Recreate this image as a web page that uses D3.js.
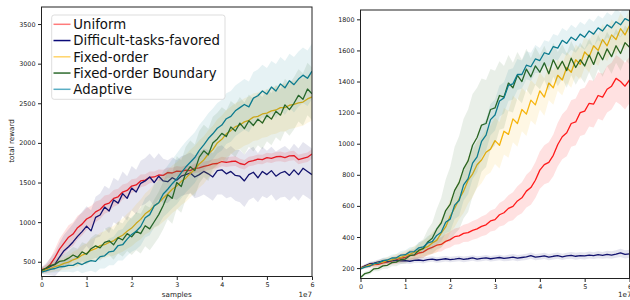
<!DOCTYPE html>
<html>
<head>
<meta charset="utf-8">
<script src="https://cdn.jsdelivr.net/npm/d3@7"></script>
<style>
  body { margin: 0; background: #fff; }
  svg { display: block; font-family: "DejaVu Sans", sans-serif; }
</style>
</head>
<body>
<div id="chart"></div>
<script>
// logged sample counts, one point every 1e6 samples
var samples = d3.range(0, 61).map(function(i) { return i * 1e6; });

var seriesNames = ["Uniform", "Difficult-tasks-favored", "Fixed-order", "Fixed-order Boundary", "Adaptive"];
var xTicks = [0, 1e7, 2e7, 3e7, 4e7, 5e7, 6e7];
var leftTicks = [500, 1000, 1500, 2000, 2500, 3000, 3500];
var rightTicks = [200, 400, 600, 800, 1000, 1200, 1400, 1600, 1800];

// ---- left panel: mean reward ----
var uniformL = [400, 415, 470, 555, 660, 735, 810, 850, 930, 975,
  1040, 1070, 1130, 1160, 1220, 1240, 1300, 1320, 1380, 1400,
  1455, 1470, 1520, 1530, 1565, 1570, 1595, 1590, 1625, 1620,
  1645, 1640, 1655, 1650, 1680, 1685, 1705, 1715, 1735, 1740,
  1765, 1755, 1765, 1770, 1740, 1725, 1765, 1775, 1795, 1790,
  1815, 1805, 1825, 1830, 1815, 1835, 1840, 1790, 1805, 1820, 1860];
var difficultL = [390, 410, 440, 470, 560, 640, 690, 750, 820, 880,
  950, 890, 1060, 1090, 1190, 1140, 1280, 1240, 1360, 1300,
  1430, 1380, 1490, 1520, 1570, 1500, 1580, 1520, 1510, 1560,
  1530, 1580, 1600, 1620, 1570, 1600, 1640, 1610, 1570, 1650,
  1660, 1610, 1640, 1590, 1580, 1520, 1600, 1630, 1560, 1640,
  1600, 1650, 1580, 1620, 1640, 1590, 1660, 1600, 1680, 1640, 1600];
var fixedL = [380, 400, 415, 440, 455, 480, 495, 525, 545, 585,
  605, 645, 665, 705, 715, 745, 765, 805, 835, 885,
  925, 985, 1035, 1105, 1145, 1205, 1245, 1305, 1355, 1415,
  1455, 1515, 1555, 1615, 1665, 1735, 1785, 1860, 1915, 2000,
  2045, 2115, 2155, 2205, 2225, 2265, 2285, 2325, 2335, 2365,
  2375, 2405, 2415, 2445, 2445, 2475, 2485, 2505, 2515, 2555, 2580];
var boundaryL = [390, 420, 455, 465, 505, 515, 545, 585, 555, 625,
  595, 665, 700, 675, 745, 765, 715, 805, 775, 855,
  815, 885, 855, 955, 915, 1005, 1095, 1210, 1345, 1300,
  1500, 1450, 1620, 1700, 1650, 1820, 1900, 1850, 2000, 2050,
  2120, 2080, 2200, 2150, 2250, 2180, 2280, 2220, 2300, 2250,
  2350, 2300, 2400, 2350, 2480, 2420, 2500, 2600, 2550, 2680, 2620];
var adaptiveL = [370, 385, 405, 415, 435, 440, 455, 455, 485, 465,
  495, 515, 505, 565, 575, 625, 635, 705, 715, 785,
  845, 885, 945, 1055, 1095, 1205, 1245, 1355, 1415, 1485,
  1545, 1625, 1695, 1755, 1815, 1905, 1975, 2055, 2115, 2185,
  2225, 2305, 2335, 2405, 2445, 2485, 2455, 2565, 2595, 2655,
  2615, 2705, 2655, 2745, 2695, 2785, 2735, 2805, 2855, 2815, 2905];

// ---- left panel: spread (half width of shaded band) ----
var uniformLSpread = [30, 50, 80, 110, 130, 140, 150, 150, 150, 145,
  140, 135, 130, 120, 115, 110, 105, 100, 95, 90,
  85, 80, 80, 75, 75, 70, 70, 70, 65, 65,
  65, 60, 60, 60, 60, 60, 60, 60, 60, 60,
  60, 60, 60, 60, 60, 60, 60, 60, 60, 60,
  60, 60, 60, 60, 60, 60, 60, 60, 60, 60, 60];
var difficultLSpread = [40, 70, 110, 150, 180, 200, 220, 230, 240, 250,
  250, 260, 260, 270, 270, 280, 280, 280, 280, 280,
  280, 280, 285, 290, 295, 300, 290, 280, 270, 260,
  250, 250, 250, 260, 270, 280, 290, 300, 300, 300,
  310, 310, 320, 320, 330, 330, 320, 320, 310, 310,
  300, 300, 310, 310, 320, 320, 330, 330, 330, 330, 330];
var fixedLSpread = [30, 40, 50, 60, 70, 80, 90, 100, 110, 120,
  130, 140, 150, 160, 170, 180, 190, 200, 210, 220,
  230, 240, 250, 260, 270, 280, 290, 300, 300, 300,
  300, 300, 300, 300, 300, 300, 300, 300, 300, 300,
  300, 300, 300, 300, 300, 300, 300, 300, 300, 300,
  300, 300, 300, 300, 300, 300, 300, 300, 300, 300, 300];
var boundaryLSpread = [30, 40, 50, 60, 70, 80, 90, 100, 110, 120,
  130, 140, 150, 160, 170, 180, 190, 200, 210, 220,
  230, 240, 250, 260, 270, 280, 290, 300, 310, 320,
  330, 330, 330, 330, 330, 330, 330, 330, 330, 330,
  330, 330, 330, 330, 330, 330, 330, 330, 330, 330,
  330, 330, 330, 330, 330, 330, 330, 330, 330, 330, 330];
var adaptiveLSpread = [20, 30, 40, 50, 60, 70, 80, 90, 100, 110,
  120, 130, 140, 150, 160, 170, 180, 190, 200, 210,
  220, 230, 240, 250, 260, 270, 280, 290, 300, 310,
  320, 320, 320, 320, 320, 320, 320, 320, 320, 320,
  320, 320, 320, 320, 320, 320, 320, 330, 330, 330,
  330, 330, 340, 340, 340, 340, 350, 350, 350, 350, 350];

// ---- right panel: mean reward ----
var uniformR = [200, 212, 214, 222, 224, 234, 238, 247, 253, 264,
  268, 282, 283, 297, 303, 322, 333, 347, 352, 372,
  383, 402, 407, 423, 428, 443, 452, 468, 478, 503,
  512, 543, 556, 584, 597, 632, 652, 695, 718, 765,
  830, 865, 880, 925, 995, 1045, 1070, 1130, 1140, 1200,
  1210, 1260, 1255, 1310, 1300, 1350, 1370, 1420, 1400, 1370, 1410];
var difficultR = [200, 215, 228, 232, 240, 245, 242, 248, 250, 246,
  248, 244, 250, 252, 248, 255, 258, 252, 256, 260,
  255, 258, 262, 256, 260, 265, 258, 262, 266, 260,
  264, 268, 262, 266, 270, 264, 268, 272, 280, 270,
  274, 278, 270, 276, 280, 272, 278, 282, 276, 280,
  278, 284, 280, 286, 282, 288, 284, 290, 298, 288, 292];
var fixedR = [200, 208, 220, 224, 234, 238, 250, 253, 264, 268,
  282, 288, 302, 308, 327, 338, 362, 378, 425, 465,
  535, 585, 645, 695, 765, 805, 865, 895, 945, 965,
  1020, 990, 1080, 1060, 1160, 1130, 1220, 1190, 1280, 1250,
  1340, 1300, 1390, 1360, 1440, 1410, 1490, 1460, 1540, 1510,
  1590, 1560, 1630, 1600, 1670, 1630, 1700, 1670, 1740, 1700, 1760];
var boundaryR = [140, 165, 172, 195, 198, 214, 218, 235, 238, 255,
  258, 280, 285, 315, 325, 368, 392, 450, 490, 570,
  610, 700, 750, 840, 890, 990, 1040, 1120, 1130, 1220,
  1230, 1310, 1300, 1390, 1360, 1440, 1400, 1480, 1430, 1500,
  1460, 1520, 1450, 1540, 1480, 1530, 1470, 1550, 1490, 1540,
  1500, 1570, 1510, 1590, 1540, 1610, 1560, 1630, 1580, 1650, 1620];
var adaptiveR = [195, 206, 212, 228, 232, 248, 252, 265, 266, 284,
  286, 304, 306, 330, 336, 362, 370, 410, 430, 495,
  515, 605, 635, 735, 775, 875, 915, 1015, 1055, 1155,
  1185, 1275, 1295, 1375, 1385, 1445, 1445, 1505, 1495, 1545,
  1535, 1585, 1575, 1625, 1615, 1665, 1645, 1685, 1665, 1705,
  1685, 1725, 1705, 1745, 1725, 1765, 1745, 1785, 1765, 1805, 1790];

// ---- right panel: spread ----
var uniformRSpread = [10, 12, 14, 16, 18, 20, 22, 24, 26, 28,
  30, 32, 34, 36, 38, 40, 42, 44, 46, 48,
  50, 52, 54, 56, 58, 60, 62, 64, 66, 68,
  70, 75, 80, 85, 90, 95, 100, 105, 110, 115,
  120, 125, 130, 135, 140, 145, 150, 150, 150, 150,
  150, 150, 150, 150, 150, 150, 150, 150, 150, 150, 150];
var difficultRSpread = [8, 10, 12, 14, 16, 18, 18, 18, 18, 18,
  18, 18, 18, 18, 18, 18, 18, 18, 18, 18,
  18, 18, 18, 18, 18, 18, 18, 18, 18, 18,
  18, 18, 18, 20, 20, 20, 20, 20, 20, 20,
  20, 20, 20, 20, 20, 20, 20, 22, 22, 22,
  22, 22, 22, 22, 22, 24, 24, 24, 26, 26, 26];
var fixedRSpread = [10, 12, 14, 16, 18, 20, 22, 24, 26, 28,
  30, 35, 40, 45, 50, 60, 70, 80, 90, 100,
  110, 120, 130, 140, 150, 150, 150, 150, 150, 150,
  150, 150, 150, 150, 150, 150, 140, 140, 130, 130,
  120, 120, 110, 110, 100, 100, 100, 100, 100, 100,
  100, 100, 100, 100, 100, 100, 100, 100, 100, 100, 100];
var boundaryRSpread = [10, 12, 14, 16, 18, 20, 22, 24, 26, 28,
  30, 35, 40, 50, 60, 80, 100, 130, 160, 200,
  240, 280, 300, 320, 330, 330, 320, 300, 280, 260,
  240, 220, 200, 180, 160, 150, 140, 130, 120, 120,
  110, 110, 110, 110, 110, 110, 110, 110, 110, 110,
  110, 110, 110, 110, 110, 110, 110, 110, 110, 110, 110];
var adaptiveRSpread = [8, 10, 12, 14, 16, 18, 20, 22, 24, 26,
  28, 30, 32, 36, 40, 45, 50, 55, 60, 70,
  80, 90, 100, 100, 100, 100, 100, 100, 100, 100,
  100, 100, 100, 100, 100, 100, 90, 90, 90, 90,
  80, 80, 80, 80, 80, 80, 80, 80, 80, 80,
  80, 80, 80, 80, 80, 80, 80, 80, 80, 80, 80];

var lineColors = ["#ff1a1a", "#12126e", "#f6b40c", "#2a6420", "#0c7b8f"];
var bandOpacity = [0.13, 0.11, 0.11, 0.1, 0.1];
var legendColors = ["#ff7b7b", "#0a0a78", "#ffd46a", "#2d6b2d", "#5aaec4"];

var W = 630, H = 300;
var svg = d3.select("#chart").append("svg")
  .attr("width", W)
  .attr("height", H);

var panels = [
  { id: "l", left: 41.5, right: 312, top: 7, bottom: 276.5, yDomain: [314, 3715], yTicks: leftTicks,
    means: [uniformL, difficultL, fixedL, boundaryL, adaptiveL],
    spreads: [uniformLSpread, difficultLSpread, fixedLSpread, boundaryLSpread, adaptiveLSpread] },
  { id: "r", left: 360.5, right: 629.5, top: 10, bottom: 278.5, yDomain: [133, 1860], yTicks: rightTicks,
    means: [uniformR, difficultR, fixedR, boundaryR, adaptiveR],
    spreads: [uniformRSpread, difficultRSpread, fixedRSpread, boundaryRSpread, adaptiveRSpread] }
];

panels.forEach(function(p) {
  var x = d3.scaleLinear().domain([0, 6e7]).range([p.left, p.right]);
  var y = d3.scaleLinear().domain(p.yDomain).range([p.bottom, p.top]);

  svg.append("clipPath").attr("id", "clip-" + p.id)
    .append("rect")
    .attr("x", p.left).attr("y", p.top)
    .attr("width", p.right - p.left).attr("height", p.bottom - p.top);

  var plot = svg.append("g").attr("clip-path", "url(#clip-" + p.id + ")");

  p.means.forEach(function(m, k) {
    var rows = samples.map(function(s, i) {
      return { x: s, y: m[i], lo: m[i] - p.spreads[k][i], hi: m[i] + p.spreads[k][i] };
    });
    var area = d3.area()
      .x(function(d) { return x(d.x); })
      .y0(function(d) { return y(d.lo); })
      .y1(function(d) { return y(d.hi); });
    var line = d3.line()
      .x(function(d) { return x(d.x); })
      .y(function(d) { return y(d.y); });

    plot.append("path")
      .datum(rows)
      .attr("d", area)
      .attr("fill", lineColors[k])
      .attr("fill-opacity", bandOpacity[k]);
    plot.append("path")
      .datum(rows)
      .attr("d", line)
      .attr("fill", "none")
      .attr("stroke", lineColors[k])
      .attr("stroke-width", 1.3)
      .attr("stroke-linejoin", "round");
  });

  // axes
  var yAxis = svg.append("g")
    .attr("transform", "translate(" + p.left + ",0)")
    .call(d3.axisLeft(y).tickValues(p.yTicks).tickSize(3.5).tickPadding(2.5).tickFormat(d3.format("d")));
  var xAxis = svg.append("g")
    .attr("transform", "translate(0," + p.bottom + ")")
    .call(d3.axisBottom(x).tickValues(xTicks).tickSize(3.5).tickPadding(2)
      .tickFormat(function(d) { return d / 1e7; }));

  [yAxis, xAxis].forEach(function(a) {
    a.select(".domain").remove();
    a.selectAll("line").attr("stroke", "#222");
    a.selectAll("text")
      .attr("fill", "#222")
      .style("font-size", "6.4px")
      .style("font-family", "DejaVu Sans, sans-serif");
  });

  // frame
  svg.append("rect")
    .attr("x", p.left).attr("y", p.top)
    .attr("width", p.right - p.left).attr("height", p.bottom - p.top)
    .attr("fill", "none")
    .attr("stroke", "#222")
    .attr("stroke-width", 1);

  // offset label
  svg.append("text")
    .attr("x", p.id == "l" ? p.right : 631.5)
    .attr("y", 296.5)
    .attr("text-anchor", "end")
    .style("font-size", "7.2px")
    .attr("fill", "#222")
    .text("1e7");
});

// axis titles (left panel only)
svg.append("text")
  .attr("x", (41.5 + 312) / 2)
  .attr("y", 296.5)
  .attr("text-anchor", "middle")
  .style("font-size", "7.2px")
  .attr("fill", "#222")
  .text("samples");

svg.append("text")
  .attr("transform", "translate(14,141) rotate(-90)")
  .attr("text-anchor", "middle")
  .style("font-size", "7.2px")
  .attr("fill", "#222")
  .text("total reward");

// legend
var legend = svg.append("g");
legend.append("rect")
  .attr("x", 51.7).attr("y", 15)
  .attr("width", 173.3).attr("height", 84.3)
  .attr("rx", 2.5)
  .attr("fill", "#fff")
  .attr("fill-opacity", 0.8)
  .attr("stroke", "#d4d4d4")
  .attr("stroke-width", 0.8);

seriesNames.forEach(function(name, i) {
  var cy = 24.3 + i * 16.25;
  legend.append("line")
    .attr("x1", 53.5).attr("x2", 70.5)
    .attr("y1", cy).attr("y2", cy)
    .attr("stroke", legendColors[i])
    .attr("stroke-width", 1.5);
  legend.append("text")
    .attr("x", 73.3)
    .attr("y", cy + 4.7)
    .style("font-size", "13.3px")
    .attr("fill", "#111")
    .text(name);
});
</script>
</body>
</html>
